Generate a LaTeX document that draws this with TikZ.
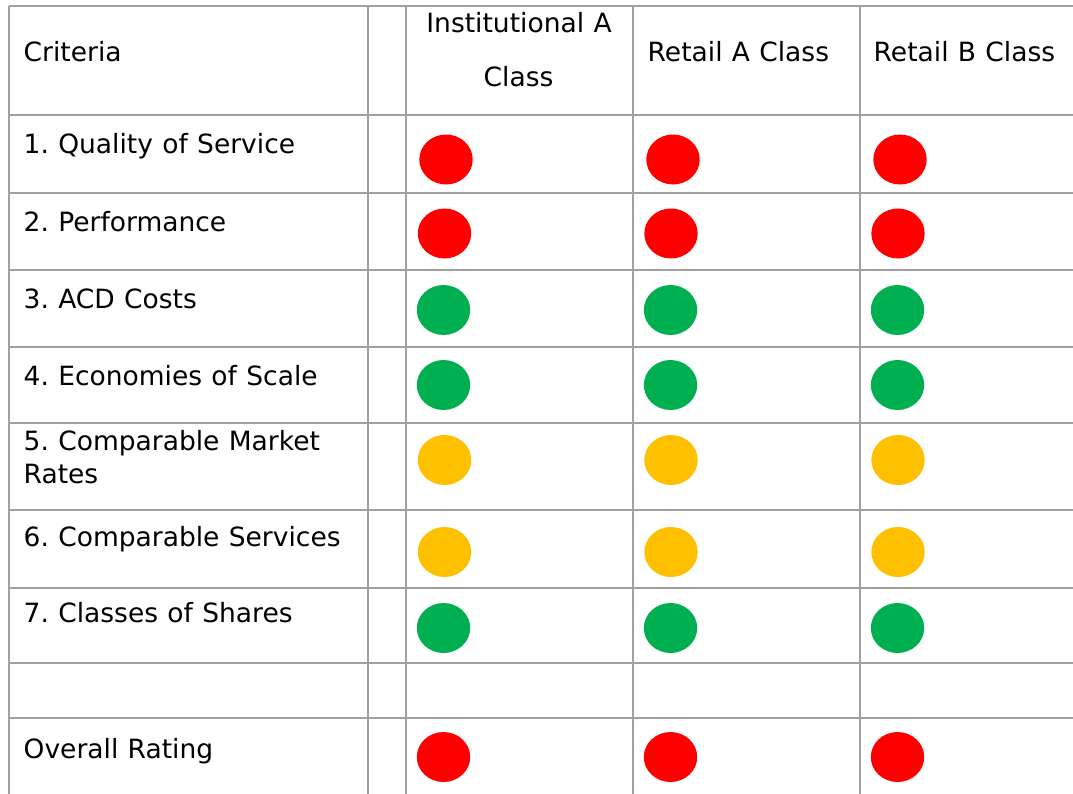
\documentclass[tikz,border=0pt]{standalone}
\usepackage{fontspec}
\setmainfont{DejaVu Sans}
\usetikzlibrary{shapes.geometric}
\definecolor{gridgray}{HTML}{A0A0A0}
\definecolor{rred}{HTML}{FF0000}
\definecolor{rgreen}{HTML}{00B050}
\definecolor{ramber}{HTML}{FFC000}
\frenchspacing
\newcommand{\tabfont}{\fontsize{26.5}{33}\selectfont\spaceskip=0.352em\relax}
\begin{document}
\begin{tikzpicture}[x=1pt,y=-1pt,
  gridline/.style={draw=gridgray,line width=2pt,line cap=square},
  lbl/.style={anchor=base west,inner sep=0pt,font=\tabfont},
  lblc/.style={anchor=base,inner sep=0pt,font=\tabfont},
  dot/.style={ellipse,minimum width=53.4pt,minimum height=50pt,inner sep=0pt,draw=none},
  reddot/.style={dot,fill=rred},
  greendot/.style={dot,fill=rgreen},
  amberdot/.style={dot,fill=ramber}]
\useasboundingbox (0,0) rectangle (1073,793);
\fill[white] (0,0) rectangle (1073,793);
% grid
\foreach \y in {6,115,193.3,270,346.7,422.5,510,587.7,663,718}
  \draw[gridline] (8.5,\y) -- (1080,\y);
\foreach \x in {8.5,368,406,632.7,859.8}
  \draw[gridline] (\x,6) -- (\x,800);
% header
\node[lbl] (hcrit) at (23.5,61) {Criteria};
\node[lblc] (hinst1) at (519,32.7) {Institutional A};
\node[lblc] (hinst2) at (518.5,86) {Class};
\node[lbl] (hreta) at (647.5,61) {Retail A Class};
\node[lbl] (hretb) at (873.5,61) {Retail B Class};
% criteria
\node[lbl] (c1) at (23.5,153) {1. Quality of Service};
\node[lbl] (c2) at (23.5,231.7) {2. Performance};
\node[lbl] (c3) at (23.5,308) {3. ACD Costs};
\node[lbl] (c4) at (23.5,385) {4. Economies of Scale};
\node[lbl] (c5a) at (23.5,450) {5. Comparable Market};
\node[lbl] (c5b) at (23.5,483) {Rates};
\node[lbl] (c6) at (23.5,546) {6. Comparable Services};
\node[lbl] (c7) at (23.5,622.7) {7. Classes of Shares};
\node[lbl] (cov) at (23.5,758) {Overall Rating};
% dots
\node[reddot] (d1a) at (446,159.5) {};
\node[reddot] (d1b) at (673,159.5) {};
\node[reddot] (d1c) at (900,159.5) {};
\node[reddot] (d2a) at (444.5,233.5) {};
\node[reddot] (d2b) at (671,233.5) {};
\node[reddot] (d2c) at (898,233.5) {};
\node[greendot] (d3a) at (443.5,310) {};
\node[greendot] (d3b) at (670.5,310) {};
\node[greendot] (d3c) at (897.5,310) {};
\node[greendot] (d4a) at (443.5,385) {};
\node[greendot] (d4b) at (670.5,385) {};
\node[greendot] (d4c) at (897.5,385) {};
\node[amberdot] (d5a) at (444.5,460) {};
\node[amberdot] (d5b) at (671,460) {};
\node[amberdot] (d5c) at (898,460) {};
\node[amberdot] (d6a) at (444.5,552) {};
\node[amberdot] (d6b) at (671,552) {};
\node[amberdot] (d6c) at (898,552) {};
\node[greendot] (d7a) at (443.5,628) {};
\node[greendot] (d7b) at (670.5,628) {};
\node[greendot] (d7c) at (897.5,628) {};
\node[reddot] (dova) at (443.5,757) {};
\node[reddot] (dovb) at (670.5,757) {};
\node[reddot] (dovc) at (897.5,757) {};
\end{tikzpicture}
\end{document}
